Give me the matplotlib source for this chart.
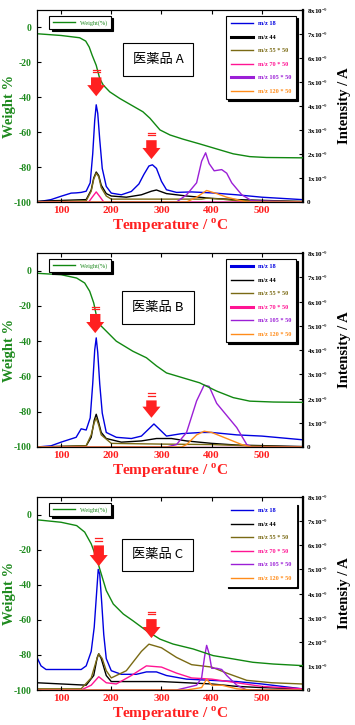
import matplotlib
matplotlib.use("Agg")
import matplotlib.pyplot as plt
from matplotlib.lines import Line2D

plt.rcParams['font.family'] = ['Liberation Serif', 'Noto Sans CJK JP', 'DejaVu Sans']
plt.rcParams['mathtext.fontset'] = 'custom'
plt.rcParams['mathtext.rm'] = 'Liberation Serif'
plt.rcParams['mathtext.bf'] = 'Liberation Serif:bold'

GREEN = '#1e8a1e'
RED = '#ff2020'
C18, C44, C55, C70, C105, C120 = '#0000e0', '#000000', '#7a6a14', '#ff1493', '#9b1fd6', '#ff8c1a'

panel_names = ['医薬品 A', '医薬品 B', '医薬品 C']
right_labels = ['Intensity / A', 'Intensity / A', 'Intensiy / A']
weight_labels = ['Weight(%)', 'Weight(%)', 'Weight(%)']
ms_labels = ['m/z 18', 'm/z 44', 'm/z 55 * 50', 'm/z 70 * 50', 'm/z 105 * 50', 'm/z 120 * 50']
ms_colors = [C18, C44, C55, C70, C105, C120]
ms_lw = [[1.0, 2.2, 1.0, 1.0, 2.2, 1.0],
         [2.2, 1.0, 1.0, 2.2, 1.0, 1.0],
         [1.0, 1.0, 1.0, 1.0, 1.0, 1.0]]

x_ticks = [100, 200, 300, 400, 500]
left_ticks = [0, -20, -40, -60, -80, -100]
right_ticks = [0, 1, 2, 3, 4, 5, 6, 7, 8]
right_ticklabels = ['0'] + ['%dx10$^{-9}$' % i for i in range(1, 9)]

# ---------------- Panel A ----------------
wA_t = [52, 100, 137, 149, 156, 162, 170, 177, 184, 197, 217, 243, 263, 277, 297, 317, 343, 376, 410, 443, 476, 509, 581]
wA_v = [-3.6, -4.6, -5.9, -7.8, -11.2, -16, -21.7, -29.3, -33, -36.9, -40.7, -45, -48.3, -52, -58.7, -61.6, -64, -66.7, -69.6, -72.4, -74, -74.5, -74.7]

a18_t = [52, 80, 100, 120, 130, 140, 150, 158, 163, 167, 170, 173, 177, 182, 190, 200, 220, 240, 255, 265, 275, 282, 290, 300, 310, 330, 360, 400, 450, 500, 580]
a18_v = [0.0, 0.1, 0.24, 0.37, 0.38, 0.4, 0.45, 0.8, 2.0, 3.4, 4.05, 3.7, 2.6, 1.4, 0.65, 0.37, 0.3, 0.44, 0.75, 1.15, 1.5, 1.55, 1.4, 0.86, 0.51, 0.4, 0.42, 0.38, 0.3, 0.2, 0.1]
a44_t = [52, 150, 160, 165, 170, 175, 180, 190, 200, 230, 260, 280, 290, 310, 350, 400, 450, 580]
a44_v = [0.03, 0.1, 0.5, 1.0, 1.25, 1.1, 0.7, 0.35, 0.25, 0.2, 0.3, 0.45, 0.5, 0.35, 0.25, 0.15, 0.1, 0.02]
a55_t = [52, 150, 160, 165, 170, 175, 180, 190, 200, 300, 380, 390, 420, 450, 580]
a55_v = [0.0, 0.05, 0.45, 0.95, 1.2, 1.05, 0.6, 0.25, 0.12, 0.12, 0.12, 0.16, 0.12, 0.05, 0.02]
a70_t = [52, 155, 162, 170, 178, 185, 580]
a70_v = [0.0, 0.0, 0.2, 0.42, 0.2, 0.0, 0.0]
a105_t = [52, 330, 350, 370, 380, 388, 395, 405, 420, 430, 440, 460, 480, 580]
a105_v = [0.0, 0.0, 0.3, 0.8, 1.7, 2.05, 1.6, 1.3, 1.35, 1.2, 0.8, 0.3, 0.05, 0.0]
a120_t = [52, 350, 370, 390, 410, 430, 450, 470, 580]
a120_v = [0.0, 0.0, 0.2, 0.48, 0.35, 0.2, 0.1, 0.0, 0.0]

# ---------------- Panel B ----------------
wB_t = [52, 100, 131, 147, 157, 165, 170, 177, 190, 210, 243, 270, 290, 310, 343, 376, 410, 443, 476, 523, 581]
wB_v = [-1.5, -2.3, -4.2, -7, -11.7, -18.3, -25, -30.6, -34.3, -40, -45.7, -49.4, -54, -58, -60.8, -63.6, -68.3, -72, -74, -74.5, -74.7]

b18_t = [52, 80, 100, 130, 140, 150, 158, 163, 167, 170, 173, 177, 182, 190, 210, 240, 260, 275, 285, 295, 310, 340, 380, 400, 450, 500, 580]
b18_v = [0.0, 0.05, 0.2, 0.4, 0.75, 0.7, 1.2, 2.6, 4.0, 4.5, 3.9, 2.6, 1.4, 0.6, 0.4, 0.35, 0.45, 0.75, 0.95, 0.75, 0.45, 0.55, 0.6, 0.6, 0.5, 0.45, 0.3]
b44_t = [52, 150, 160, 166, 170, 175, 180, 190, 220, 260, 290, 320, 350, 400, 450, 580]
b44_v = [0.0, 0.05, 0.4, 1.1, 1.35, 1.0, 0.6, 0.35, 0.2, 0.25, 0.35, 0.35, 0.25, 0.15, 0.08, 0.02]
b55_t = [52, 150, 160, 166, 170, 175, 180, 200, 300, 400, 470, 580]
b55_v = [0.0, 0.05, 0.5, 1.0, 1.2, 0.9, 0.5, 0.15, 0.12, 0.1, 0.05, 0.0]
b70_t = [52, 580]
b70_v = [0.0, 0.0]
b105_t = [52, 310, 330, 350, 370, 385, 395, 410, 430, 450, 470, 480, 580]
b105_v = [0.0, 0.0, 0.1, 0.6, 1.9, 2.55, 2.5, 1.8, 1.3, 0.8, 0.1, 0.0, 0.0]
b120_t = [52, 340, 350, 370, 385, 400, 430, 460, 480, 580]
b120_v = [0.0, 0.0, 0.1, 0.5, 0.65, 0.6, 0.35, 0.1, 0.0, 0.0]

# ---------------- Panel C ----------------
wC_t = [52, 100, 131, 147, 160, 170, 177, 190, 204, 224, 243, 270, 297, 323, 363, 403, 443, 482, 523, 581]
wC_v = [-3, -4.4, -6.3, -10, -16.7, -24.3, -31, -43.3, -51, -56.7, -60.5, -66.2, -71, -73.8, -76.6, -80.4, -82.3, -84.2, -85.2, -86.1]

c18_t = [52, 60, 70, 100, 140, 150, 160, 166, 170, 174, 177, 181, 185, 190, 200, 220, 250, 270, 290, 310, 350, 400, 450, 500, 580]
c18_v = [1.35, 1.0, 0.85, 0.85, 0.85, 1.0, 1.6, 2.6, 3.8, 5.0, 4.8, 3.6, 2.3, 1.3, 0.8, 0.65, 0.65, 0.75, 0.75, 0.6, 0.45, 0.4, 0.35, 0.25, 0.05]
c44_t = [52, 150, 165, 172, 175, 180, 190, 200, 250, 300, 350, 400, 450, 500, 580]
c44_v = [0.3, 0.2, 0.6, 1.35, 1.5, 1.3, 0.6, 0.35, 0.35, 0.35, 0.3, 0.25, 0.15, 0.1, 0.05]
c55_t = [52, 140, 160, 170, 175, 182, 190, 200, 230, 260, 275, 300, 330, 360, 380, 400, 430, 470, 520, 580]
c55_v = [0.05, 0.05, 0.5, 1.2, 1.5, 1.3, 0.8, 0.5, 0.8, 1.6, 1.9, 1.75, 1.35, 1.05, 1.0, 0.95, 0.7, 0.4, 0.3, 0.25]
c70_t = [52, 140, 160, 175, 190, 210, 240, 270, 300, 330, 360, 400, 450, 500, 580]
c70_v = [0.0, 0.0, 0.2, 0.55, 0.3, 0.25, 0.6, 1.0, 0.95, 0.7, 0.5, 0.45, 0.3, 0.15, 0.05]
c105_t = [52, 330, 350, 370, 380, 386, 390, 395, 400, 410, 420, 430, 450, 470, 580]
c105_v = [0.0, 0.0, 0.1, 0.2, 0.5, 1.4, 1.85, 1.5, 0.9, 0.9, 0.85, 0.6, 0.2, 0.0, 0.0]
c120_t = [52, 350, 380, 390, 400, 420, 450, 480, 580]
c120_v = [0.0, 0.0, 0.1, 0.45, 0.2, 0.2, 0.05, 0.0, 0.0]

panels = [
    dict(w=(wA_t, wA_v), ms=[(a18_t, a18_v), (a44_t, a44_v), (a55_t, a55_v), (a70_t, a70_v), (a105_t, a105_v), (a120_t, a120_v)],
         arrows=[(170, -27, -41), (280, -63, -77)], box_y=-18.5),
    dict(w=(wB_t, wB_v), ms=[(b18_t, b18_v), (b44_t, b44_v), (b55_t, b55_v), (b70_t, b70_v), (b105_t, b105_v), (b120_t, b120_v)],
         arrows=[(168, -23, -37), (280, -72, -85)], box_y=-21),
    dict(w=(wC_t, wC_v), ms=[(c18_t, c18_v), (c44_t, c44_v), (c55_t, c55_v), (c70_t, c70_v), (c105_t, c105_v), (c120_t, c120_v)],
         arrows=[(175, -16, -31), (280, -58, -72)], box_y=-23),
]

fig = plt.figure(figsize=(3.55, 7.25), dpi=100)
fig.patch.set_facecolor('white')
axes_px = [(10, 202), (253, 447), (497, 690)]
W, H = 355.0, 725.0

for i, p in enumerate(panels):
    top, bot = axes_px[i]
    ax = fig.add_axes([37 / W, 1 - bot / H, (303 - 37) / W, (bot - top) / H])
    ax2 = ax.twinx()
    ax.set_zorder(ax2.get_zorder() + 1)
    ax.patch.set_visible(False)

    ax.set_xlim(52, 582)
    ax.set_ylim(-100, 10)
    ax2.set_ylim(0, 8)

    wl, = ax.plot(p['w'][0], p['w'][1], color='#118811', lw=1.0, label=weight_labels[i])
    for k, (t, v) in enumerate(p['ms']):
        ax2.plot(t, v, color=ms_colors[k], lw=1.0, label=ms_labels[k])

    ax.set_xticks(x_ticks)
    ax.set_yticks(left_ticks)
    ax.set_yticklabels([str(v) for v in left_ticks])
    ax2.set_yticks(right_ticks)
    ax2.set_yticklabels(right_ticklabels)
    ax.tick_params(axis='x', direction='in', length=3, colors='black', labelcolor=RED, labelsize=8, top=True, pad=3)
    ax.tick_params(axis='y', direction='in', length=3, colors='black', labelcolor=GREEN, labelsize=7, pad=4)
    ax2.tick_params(axis='y', direction='in', length=3, labelsize=5, pad=3)
    for lab in ax.get_xticklabels() + ax.get_yticklabels() + ax2.get_yticklabels():
        lab.set_fontweight('bold')
    for sp in ax2.spines.values():
        sp.set_linewidth(0.8)
    ax2.spines['right'].set_linewidth(1.6)

    ax.set_xlabel('Temperature / $^{\\mathbf{o}}$C', color=RED, fontsize=11, fontweight='bold', labelpad=1)
    ax.set_ylabel('Weight %', color=GREEN, fontsize=10.5, fontweight='bold')
    ax.yaxis.set_label_coords(-0.08, 0.5)
    ax2.set_ylabel(right_labels[i], color='black', fontsize=10.5, fontweight='bold')
    ax2.yaxis.set_label_coords(1.13, 0.5)

    # weight legend
    leg1 = ax.legend(handles=[wl], loc='upper left', bbox_to_anchor=(0.035, 0.985), fontsize=4.5,
                     frameon=True, fancybox=False, shadow={'color': 'black', 'alpha': 1.0, 'ox': 1.5, 'oy': -1.5},
                     handlelength=3.5, borderpad=0.6, labelcolor=[GREEN])
    leg1.get_frame().set_edgecolor('black')
    leg1.get_frame().set_linewidth(0.8)
    ax.add_artist(leg1)

    # MS legend
    hl = [Line2D([], [], color=ms_colors[k], lw=ms_lw[i][k]) for k in range(6)]
    leg2 = ax.legend(handles=hl, labels=ms_labels, loc='upper right', bbox_to_anchor=(0.985, 0.985),
                     fontsize=4.5, frameon=True, fancybox=False,
                     shadow={'color': 'black', 'alpha': 1.0, 'ox': 1.5, 'oy': -1.5},
                     handlelength=3.5, labelspacing=1.3, borderpad=0.8, labelcolor=ms_colors, framealpha=1)
    for t in leg2.get_texts():
        t.set_fontweight('bold')
    leg2.get_frame().set_edgecolor('black' if i != 2 else 'white')
    leg2.get_frame().set_linewidth(0.8)

    # sample name box
    ax.text(293, p['box_y'], panel_names[i], fontsize=9.5, ha='center', va='center',
            family=['Noto Sans CJK JP', 'DejaVu Sans'],
            bbox=dict(boxstyle='square,pad=0.75', facecolor='white', edgecolor='black', lw=0.8), zorder=5)

    # red arrows
    for (xa, ytop, ytip) in p['arrows']:
        ax.annotate('', xy=(xa, ytip), xytext=(xa, ytop),
                    arrowprops=dict(arrowstyle='simple,head_width=1.3,head_length=0.8,tail_width=0.75',
                                    color=RED, lw=0, mutation_scale=10), zorder=6)
        for dy in (1.2, 2.4):
            ax.plot([xa - 7, xa + 7], [ytop + dy, ytop + dy], color=RED, lw=0.9, zorder=6)

fig.savefig('out.png', dpi=100)
